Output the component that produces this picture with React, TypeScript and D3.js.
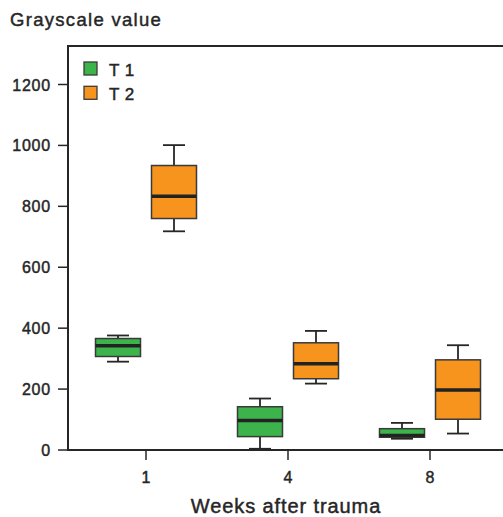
import { useEffect, useRef } from "react";
import * as d3 from "d3";

// weeks after trauma
const weeks = ["1", "4", "8"];
const seriesNames = ["T 1", "T 2"];
const seriesColors = ["#3cb44b", "#f7941e"];
// [min, q1, median, q3, max] per week
const t1Stats = [
  [290, 307, 342, 366, 376],
  [4, 44, 97, 142, 169],
  [37, 42, 48, 70, 89],
];
const t2Stats = [
  [718, 760, 833, 934, 1001],
  [218, 234, 283, 352, 391],
  [54, 101, 197, 296, 344],
];
const yTicks = [0, 200, 400, 600, 800, 1000, 1200];

const W = 503;
const H = 517;
const FONT = "'Liberation Sans', Arial, Helvetica, sans-serif";
const INK = "#262626";

const App = () => {
  const svgRef = useRef<SVGSVGElement | null>(null);

  useEffect(() => {
    const svg = d3.select(svgRef.current);
    svg.selectAll("*").remove();

    const left = 68;
    const right = W;
    const top = 46;
    const bottom = 450;

    const y = d3.scaleLinear().domain([0, 1200]).range([bottom, 84.5]);
    const x = d3.scalePoint<string>().domain(weeks).range([146, 430]);
    const sub = d3.scalePoint<string>().domain(seriesNames).range([-28, 28]);
    const color = d3.scaleOrdinal<string, string>().domain(seriesNames).range(seriesColors);
    const boxW = 45;
    const capW = 22;

    // slightly heavier text to match the medium-weight original
    const txt = (sel: any) =>
      sel.attr("font-family", FONT)
        .attr("fill", INK)
        .attr("stroke", INK)
        .attr("stroke-width", 0.45);

    // title
    svg.append("text")
      .attr("x", 10).attr("y", 26)
      .attr("font-size", 18.5)
      .attr("letter-spacing", 1.3)
      .call(txt)
      .text("Grayscale value");

    // y axis ticks + labels
    const yAxis = svg.append("g");
    yAxis.selectAll("line")
      .data(yTicks)
      .enter()
      .append("line")
      .attr("x1", left - 10).attr("x2", left)
      .attr("y1", d => y(d)).attr("y2", d => y(d))
      .attr("stroke", INK).attr("stroke-width", 1.5);
    yAxis.selectAll("text")
      .data(yTicks)
      .enter()
      .append("text")
      .attr("x", 51).attr("y", d => y(d) + 6)
      .attr("text-anchor", "end")
      .attr("font-size", 16)
      .attr("letter-spacing", 0.8)
      .call(txt)
      .text(d => d);

    // x ticks + labels
    const xAxis = svg.append("g");
    xAxis.selectAll("line")
      .data(weeks)
      .enter()
      .append("line")
      .attr("x1", d => x(d)!).attr("x2", d => x(d)!)
      .attr("y1", bottom).attr("y2", bottom + 10)
      .attr("stroke", INK).attr("stroke-width", 1.5);
    xAxis.selectAll("text")
      .data(weeks)
      .enter()
      .append("text")
      .attr("x", d => x(d)!).attr("y", 483)
      .attr("text-anchor", "middle")
      .attr("font-size", 16)
      .call(txt)
      .text(d => d);

    svg.append("text")
      .attr("x", 286).attr("y", 512.5)
      .attr("text-anchor", "middle")
      .attr("font-size", 20)
      .attr("letter-spacing", 0.9)
      .call(txt)
      .text("Weeks after trauma");

    // boxes
    const allStats = [t1Stats, t2Stats];
    seriesNames.forEach((name, si) => {
      const g = svg.append("g");
      const rows = weeks.map((w, i) => ({ w, s: allStats[si][i] }));
      const grp = g.selectAll("g").data(rows).enter().append("g")
        .attr("transform", d => `translate(${x(d.w)! + sub(name)!},0)`);

      // whiskers
      grp.append("line")
        .attr("x1", 0).attr("x2", 0)
        .attr("y1", d => y(d.s[0])).attr("y2", d => y(d.s[4]))
        .attr("stroke", INK).attr("stroke-width", 1.8);
      [0, 4].forEach(k => {
        grp.append("line")
          .attr("x1", -capW / 2).attr("x2", capW / 2)
          .attr("y1", d => y(d.s[k])).attr("y2", d => y(d.s[k]))
          .attr("stroke", INK).attr("stroke-width", 1.8);
      });
      grp.append("rect")
        .attr("x", -boxW / 2).attr("width", boxW)
        .attr("y", d => y(d.s[3]))
        .attr("height", d => y(d.s[1]) - y(d.s[3]))
        .attr("fill", color(name))
        .attr("stroke", "#3a3a3a").attr("stroke-width", 1.5);
      grp.append("line")
        .attr("x1", -boxW / 2).attr("x2", boxW / 2)
        .attr("y1", d => y(d.s[2])).attr("y2", d => y(d.s[2]))
        .attr("stroke", "#222").attr("stroke-width", 3.5);
    });

    // frame: left axis, top line, bottom axis
    svg.append("path")
      .attr("d", `M${right},${top}H${left}V${bottom}H${right}`)
      .attr("fill", "none")
      .attr("stroke", INK).attr("stroke-width", 2);

    // legend
    const legend = svg.append("g").selectAll("g")
      .data(seriesNames)
      .enter()
      .append("g")
      .attr("transform", (d, i) => `translate(84,${62 + i * 24.3})`);
    legend.append("rect")
      .attr("width", 13).attr("height", 13)
      .attr("fill", d => color(d))
      .attr("stroke", "#3a3a3a").attr("stroke-width", 1.3);
    legend.append("text")
      .attr("x", 25).attr("y", 13.8)
      .attr("font-size", 17)
      .attr("letter-spacing", 0.5)
      .call(txt)
      .text(d => d);
  }, []);

  return (
    <svg
      ref={svgRef}
      width={W}
      height={H}
      style={{ position: "absolute", left: 0, top: 0, background: "#fff" }}
    />
  );
};

export default App;
